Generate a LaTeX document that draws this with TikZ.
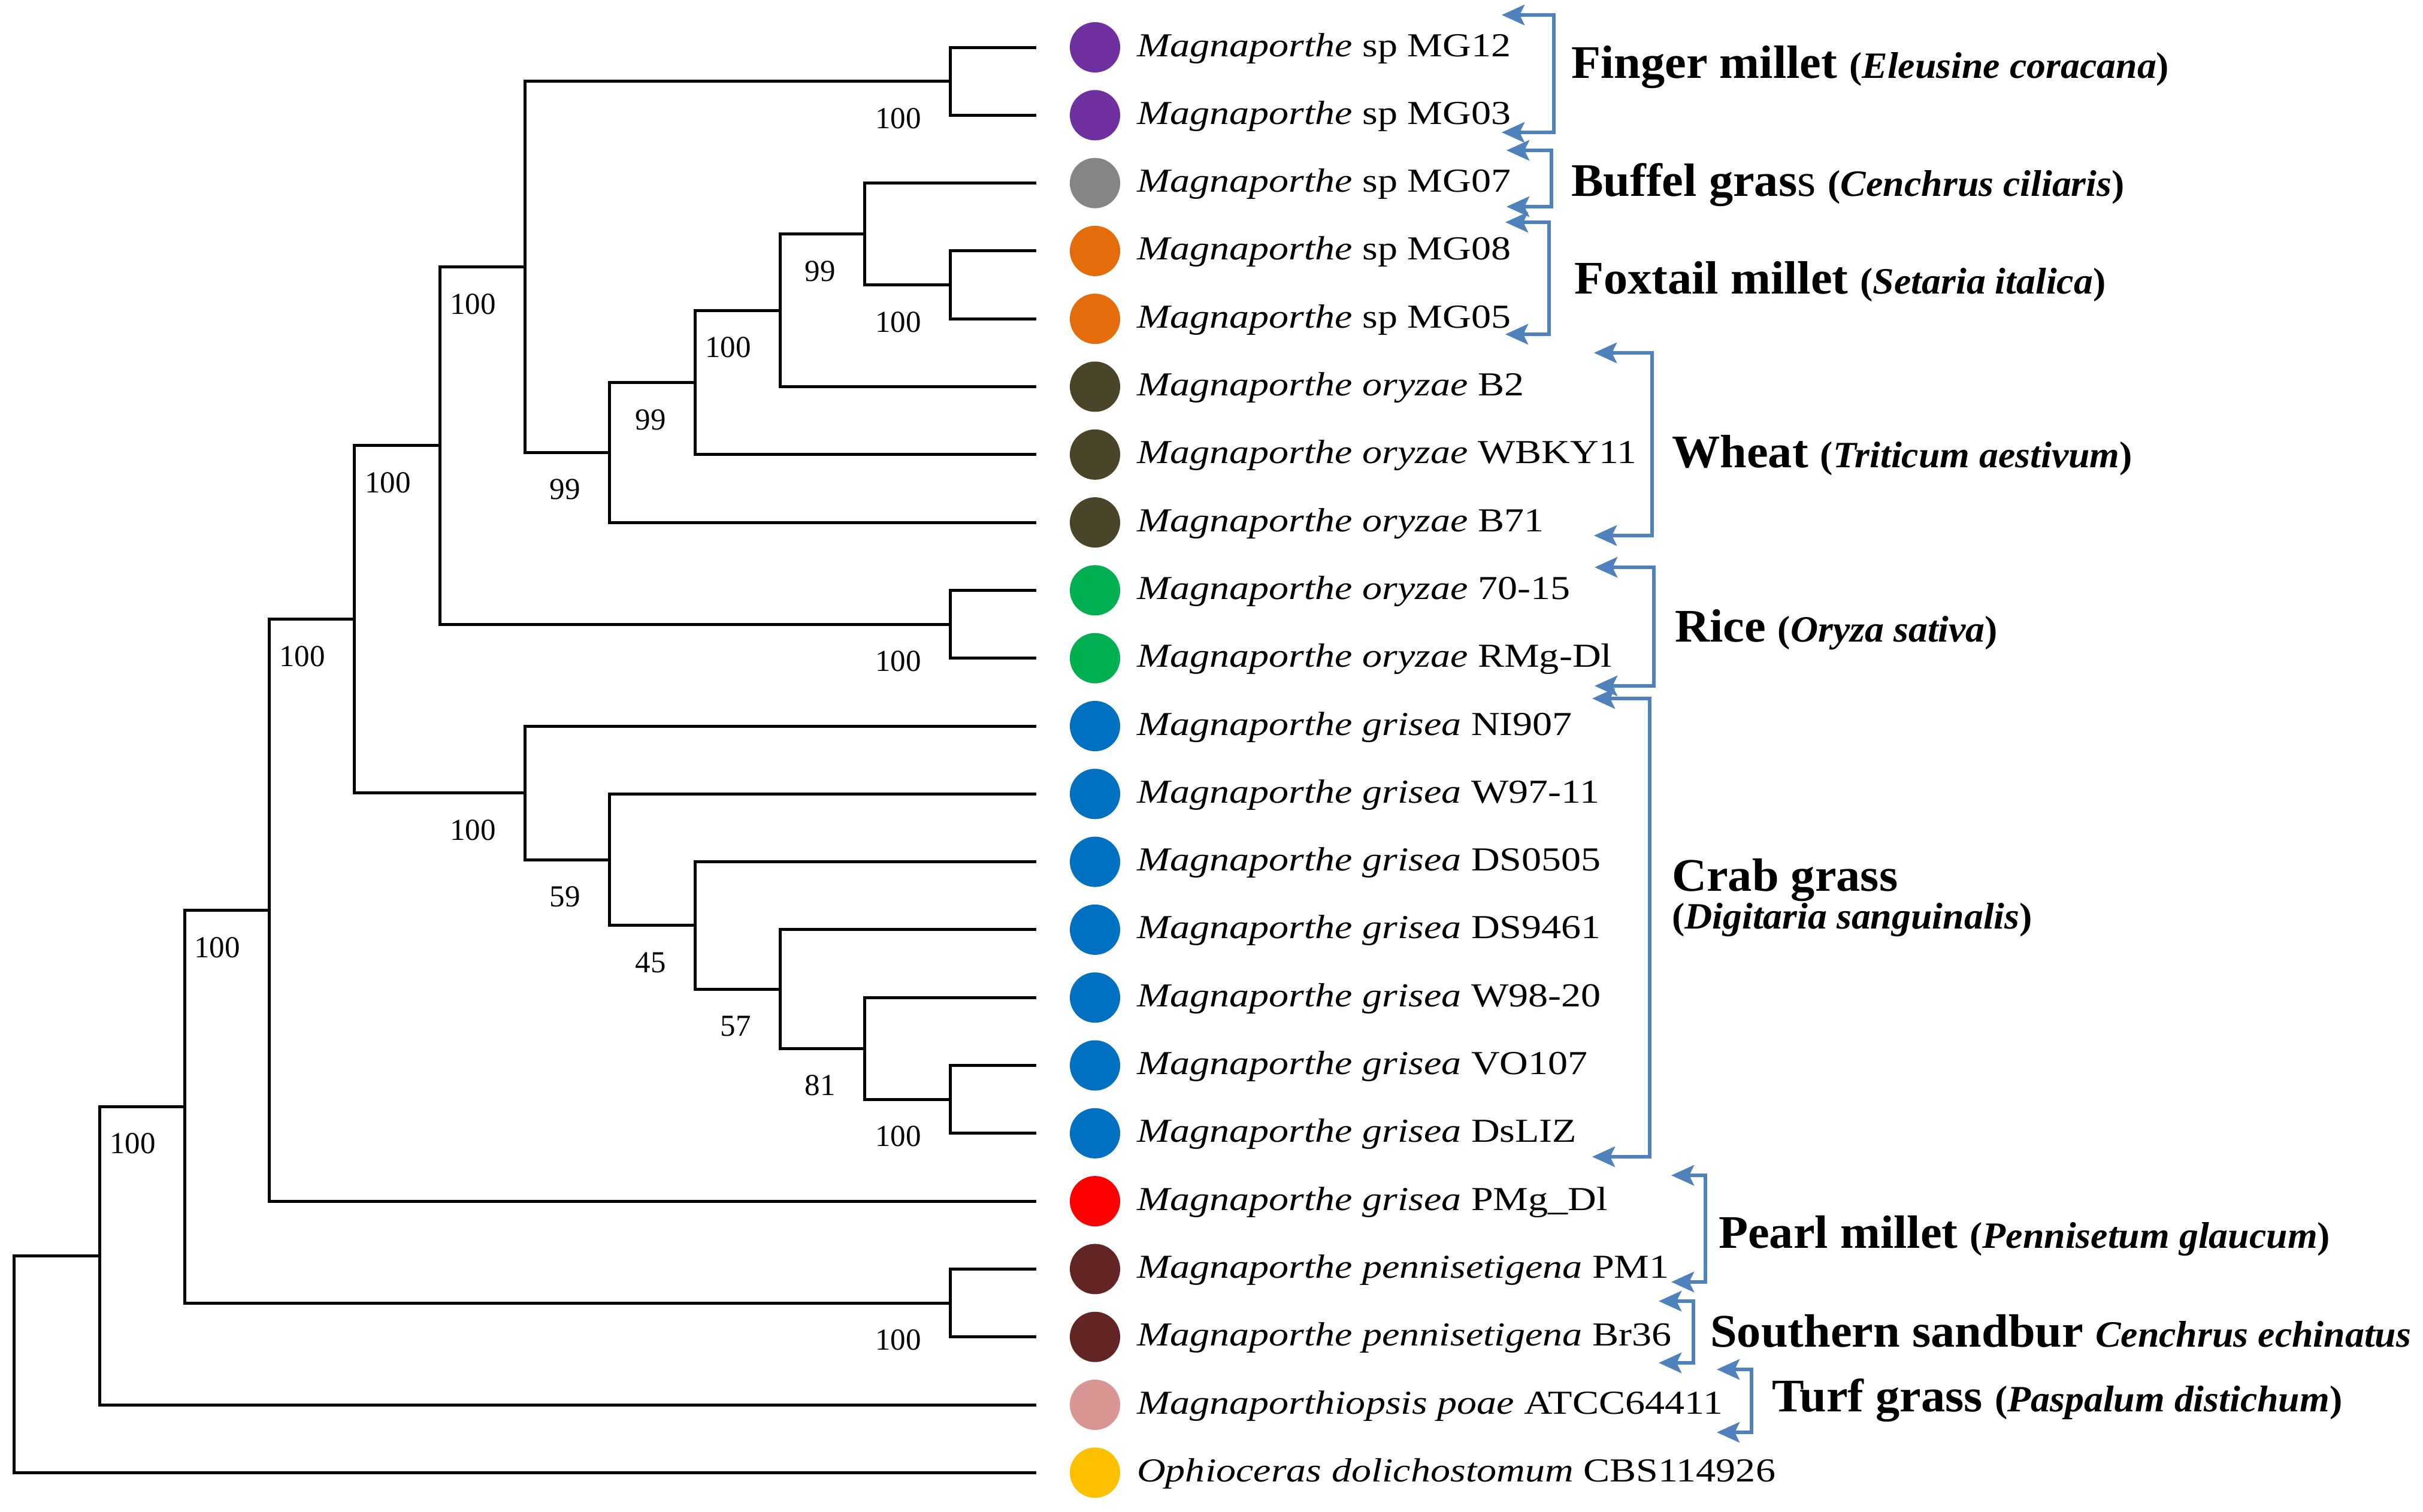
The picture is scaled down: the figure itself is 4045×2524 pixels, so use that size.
\documentclass[tikz,border=0pt]{standalone}
\usepackage{fontspec}
\setmainfont{Liberation Serif}
\newfontfamily\leaffont{Liberation Serif}[FakeStretch=1.18]
\newfontfamily\grpfont{Liberation Serif}[FakeStretch=1.03]
\usetikzlibrary{arrows.meta}
\definecolor{cPurple}{HTML}{7030A0}
\definecolor{cGray}{HTML}{858585}
\definecolor{cOrange}{HTML}{E46C0A}
\definecolor{cOlive}{HTML}{4A4528}
\definecolor{cGreen}{HTML}{00B050}
\definecolor{cBlue}{HTML}{0070C0}
\definecolor{cRed}{HTML}{FF0000}
\definecolor{cMaroon}{HTML}{632523}
\definecolor{cPink}{HTML}{D99694}
\definecolor{cGold}{HTML}{FFC000}
\definecolor{cBrk}{HTML}{4F81BD}
\begin{document}
\begin{tikzpicture}[x=1pt,y=-1pt,
  tree/.style={line width=5pt, line join=miter},
  bs/.style={font=\fontsize{51}{51}\selectfont, anchor=east, inner sep=0pt},
  leaf/.style={font=\leaffont\fontsize{56}{60}\selectfont, anchor=base west, inner sep=0pt},
  dot/.style={circle, minimum size=84pt, inner sep=0pt},
  grp/.style={font=\grpfont\bfseries\fontsize{78}{80}\selectfont, anchor=base west, inner sep=0pt},
  brk/.style={draw=cBrk, line width=6pt, line join=miter,
    {Stealth[length=38pt,width=34pt,inset=8pt]}-{Stealth[length=38pt,width=34pt,inset=8pt]}}]
\newcommand\sm[1]{{\fontsize{62}{63}\selectfont #1}}
\fill[white] (0,0) rectangle (4045,2524);
\path[use as bounding box] (0,0) rectangle (4045,2524);

% leaf end points
\foreach \i/\y in {0/79,1/192.3,2/305.6,3/418.9,4/532.2,5/645.5,6/758.8,7/872.1,
  8/985.4,9/1098.7,10/1212,11/1325.3,12/1438.6,13/1551.9,14/1665.2,15/1778.5,
  16/1891.8,17/2005.1,18/2118.4,19/2231.7,20/2345,21/2458.3}{
  \coordinate (l\i) at (1730,\y);
}

% internal nodes
\coordinate (root)   at (23,2277.2);
\coordinate (A)      at (166,2096.1);
\coordinate (B)      at (308,1847.2);
\coordinate (C)      at (449,1519.4);
\coordinate (D)      at (591,1033.6);
\coordinate (E)      at (734,743.7);
\coordinate (F)      at (876,445.45);
\coordinate (crab)   at (876,1323.5);
\coordinate (W)      at (1017,755.3);
\coordinate (X1)     at (1017,1435.1);
\coordinate (W2)     at (1160,638.4);
\coordinate (X2)     at (1160,1544.8);
\coordinate (W3)     at (1302,518.04);
\coordinate (X3)     at (1302,1651.0);
\coordinate (W4)     at (1443,390.6);
\coordinate (X4)     at (1443,1750.2);
\coordinate (fox)    at (1586,475.55);
\coordinate (finger) at (1586,135.65);
\coordinate (rice)   at (1586,1042.05);
\coordinate (X5)     at (1586,1835.15);
\coordinate (P)      at (1586,2175.05);

% branches
\foreach \p/\c in {root/A, root/l21, A/B, A/l20, B/C, B/P, C/D, C/l17, D/E, D/crab,
  E/F, E/rice, F/finger, F/W, W/W2, W/l7, W2/W3, W2/l6, W3/W4, W3/l5, W4/l2, W4/fox,
  fox/l3, fox/l4, finger/l0, finger/l1, rice/l8, rice/l9, crab/l10, crab/X1,
  X1/l11, X1/X2, X2/l12, X2/X3, X3/l13, X3/X4, X4/l14, X4/X5, X5/l15, X5/l16,
  P/l18, P/l19}{
  \draw[tree] (\p) |- (\c);
}

% bootstrap values
\foreach \n/\v in {finger/100, W4/99, fox/100, W3/100, W2/99, W/99, F/100, E/100,
  D/100, rice/100, crab/100, X1/59, X2/45, X3/57, X4/81, X5/100, C/100, B/100, P/100}{
  \node[bs] (bs\n) at ([shift={(-48,62)}]\n) {\v};
}

% dots and leaf labels
\foreach \i/\c/\g/\s in {
  0/cPurple/Magnaporthe/sp MG12,
  1/cPurple/Magnaporthe/sp MG03,
  2/cGray/Magnaporthe/sp MG07,
  3/cOrange/Magnaporthe/sp MG08,
  4/cOrange/Magnaporthe/sp MG05,
  5/cOlive/Magnaporthe oryzae/B2,
  6/cOlive/Magnaporthe oryzae/WBKY11,
  7/cOlive/Magnaporthe oryzae/B71,
  8/cGreen/Magnaporthe oryzae/70-15,
  9/cGreen/Magnaporthe oryzae/RMg-Dl,
  10/cBlue/Magnaporthe grisea/NI907,
  11/cBlue/Magnaporthe grisea/W97-11,
  12/cBlue/Magnaporthe grisea/DS0505,
  13/cBlue/Magnaporthe grisea/DS9461,
  14/cBlue/Magnaporthe grisea/W98-20,
  15/cBlue/Magnaporthe grisea/VO107,
  16/cBlue/Magnaporthe grisea/DsLIZ,
  17/cRed/Magnaporthe grisea/PMg\_Dl,
  18/cMaroon/Magnaporthe pennisetigena/PM1,
  19/cMaroon/Magnaporthe pennisetigena/Br36,
  20/cPink/Magnaporthiopsis poae/ATCC64411,
  21/cGold/Ophioceras dolichostomum/CBS114926}{
  \node[dot, fill=\c] (d\i) at ([xshift=98]l\i) {};
  \node[leaf] (t\i) at ([shift={(168,15)}]l\i) {\textit{\g} \s};
}

% brackets
\foreach \n/\t/\b/\v/\x in {fm/25/221/2594/2507, bg/251/345/2590/2515,
  fx/371/558/2586/2513, wh/589/894/2758/2661, ri/947/1145/2761/2662,
  cg/1166/1931/2754/2658, pm/1962/2140/2847/2790, ss/2172/2275/2827/2769,
  tg/2286/2391/2924/2866}{
  \coordinate (\n T) at (\x,\t);
  \coordinate (\n B) at (\x,\b);
  \coordinate (\n V) at (\v,\t);
  \draw[brk] (\n T) -- (\n V) |- (\n B);
}

% group labels
\node[grp] (gfm) at (2623,130) {Finger millet \sm{(\textit{Eleusine coracana})}};
\node[grp] (gbg) at (2623,327) {Buffel gras\textmd{s} \sm{(\textit{Cenchrus ciliaris})}};
\node[grp] (gfx) at (2628,490) {Foxtail millet \sm{(\textit{Setaria italica})}};
\node[grp] (gwh) at (2791,780) {Wheat \sm{(\textit{Triticum aestivum})}};
\node[grp] (gri) at (2796,1071) {Rice \sm{(\textit{Oryza sativa})}};
\node[grp] (gcg) at (2791,1487) {Crab grass};
\node[grp] (gcg2) at (2791,1550) {\sm{(\textit{Digitaria sanguinalis})}};
\node[grp] (gpm) at (2869,2083) {Pearl millet \sm{(\textit{Pennisetum glaucum})}};
\node[grp] (gss) at (2855,2248) {Southern sandbur \sm{\textit{Cenchrus echinatus}}};
\node[grp] (gtg) at (2958,2356) {Turf grass \sm{(\textit{Paspalum distichum})}};
\end{tikzpicture}
\end{document}
